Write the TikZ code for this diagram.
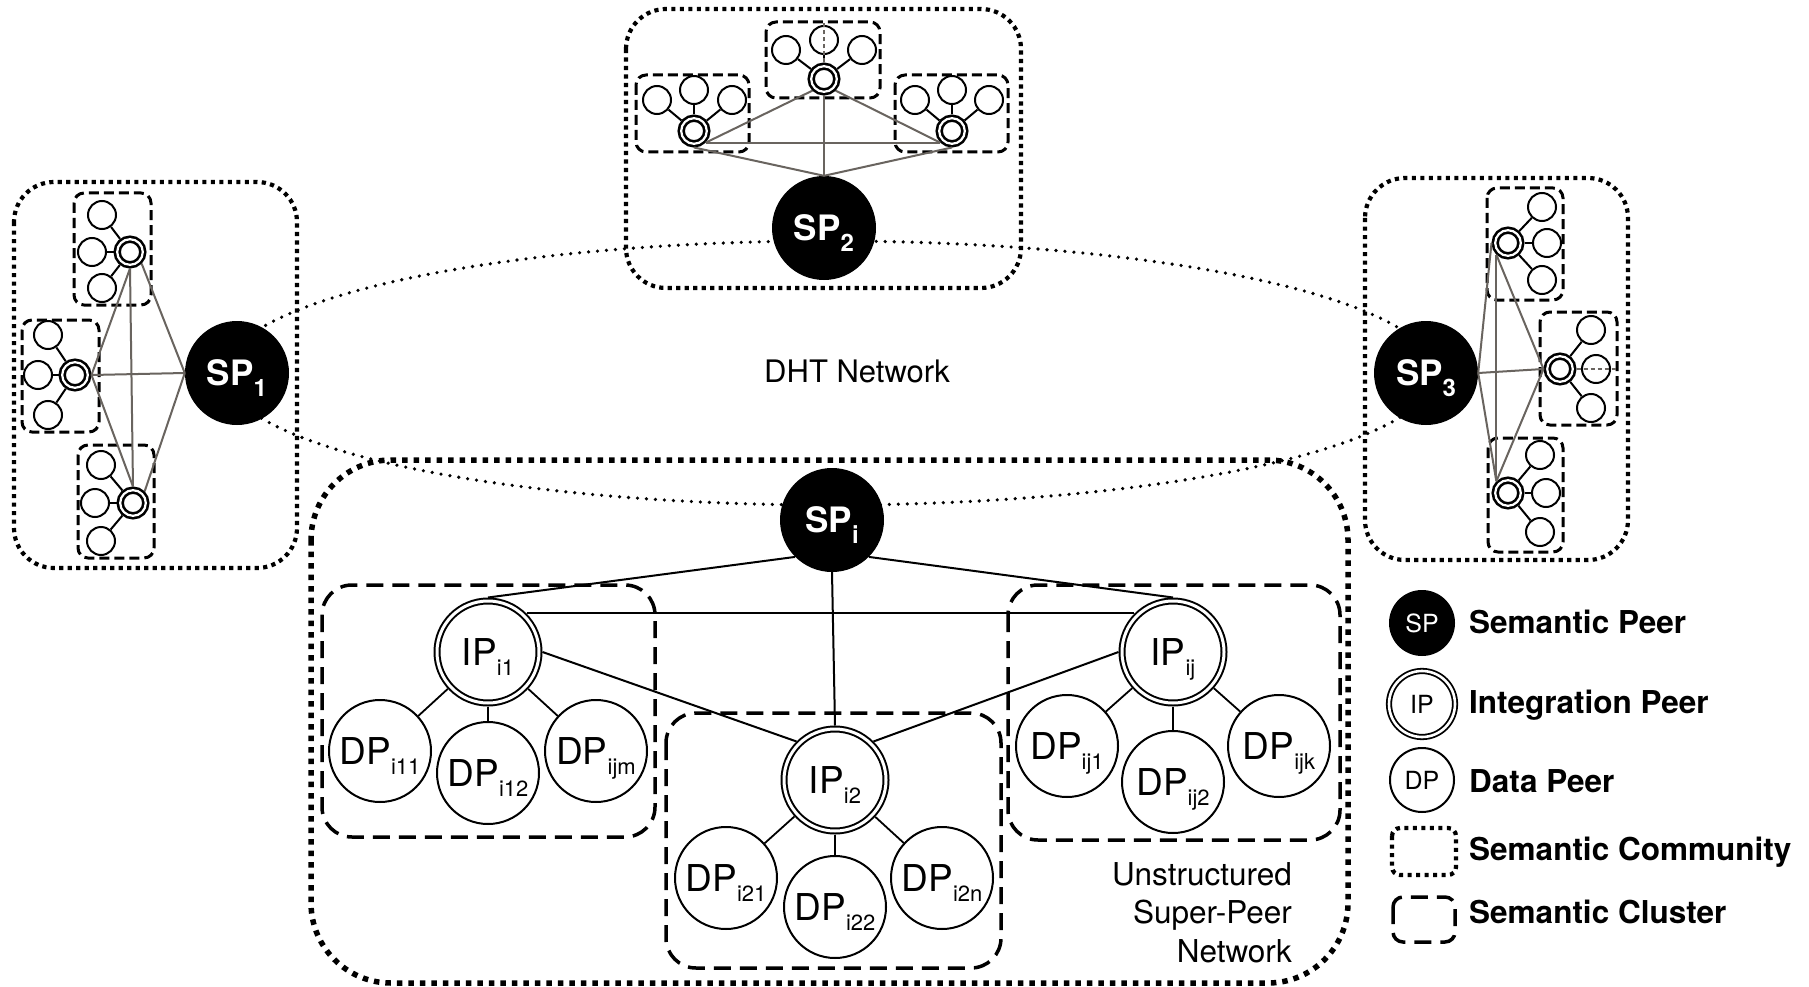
\documentclass[tikz,border=0pt]{standalone}
\usepackage{fontspec}
\setmainfont{TeX Gyre Heros}
\definecolor{glc}{RGB}{105,100,95}
\newcommand{\splab}[1]{SP\raisebox{-11pt}{\fontsize{24}{24}\selectfont #1}}
\newcommand{\peerlab}[2]{#1\raisebox{-10pt}{\fontsize{22}{22}\selectfont #2}}
\tikzset{
 comm/.style={line width=4.2pt, dash pattern=on 4.2pt off 4.3pt, rounded corners=40pt},
 commbig/.style={line width=5.5pt, dash pattern=on 5.5pt off 6pt, rounded corners=80pt},
 clsmall/.style={line width=3pt, dash pattern=on 10pt off 5pt, rounded corners=10pt},
 clbig/.style={line width=3.5pt, dash pattern=on 17pt off 9pt, rounded corners=30pt},
 ring/.style={line width=3.6pt, dash pattern=on 0pt off 9pt, line cap=round},
 sp/.style={circle, fill=black, minimum size=104pt, inner sep=0pt, text=white,
   font=\fontsize{35}{35}\selectfont\bfseries, text height=25pt, text depth=0pt},
 ipb/.style={circle, draw=black, line width=2pt, double=white, double distance=3pt,
   fill=white, minimum size=102pt, inner sep=0pt, outer sep=3.5pt,
   font=\fontsize{37}{37}\selectfont, text height=27pt, text depth=0pt},
 dpb/.style={circle, draw=black, line width=2pt, fill=white, minimum size=102pt,
   inner sep=0pt, font=\fontsize{37}{37}\selectfont, text height=27pt, text depth=0pt},
 ips/.style={circle, draw=black, line width=2.6pt, double=white, double distance=2.2pt,
   fill=white, minimum size=25.6pt, inner sep=0pt, outer sep=3.7pt},
 dps/.style={circle, draw=black, line width=2pt, fill=white, minimum size=28pt, inner sep=0pt},
 gl/.style={draw=glc, line width=2pt},
 gdash/.style={draw=glc, line width=1.2pt, dash pattern=on 4pt off 3pt},
 bl/.style={draw=black, line width=2pt},
 dl/.style={draw=black, line width=1.8pt},
 utxt/.style={anchor=base east, inner sep=0pt, font=\fontsize{31.5}{31.5}\selectfont},
 legt/.style={anchor=base west, inner sep=0pt, font=\fontsize{31.5}{31.5}\selectfont\bfseries},
}
\begin{document}
\begin{tikzpicture}[x=1pt,y=-1pt]
\useasboundingbox (0,0) rectangle (1809,987);
\fill[white] (0,0) rectangle (1809,987);

% DHT ring
\draw[ring] (830,373) ellipse [x radius=605pt, y radius=132pt];

% community boxes
\draw[comm] (14,182) rectangle (297,568);
\draw[comm] (626,9) rectangle (1021,288);
\draw[comm] (1365,178) rectangle (1628,560);
\draw[commbig] (311,460) rectangle (1348,983);

% small cluster boxes
\draw[clsmall] (74,193) rectangle (151,305);
\draw[clsmall] (22,320) rectangle (99,432);
\draw[clsmall] (78,445) rectangle (154,558);
\draw[clsmall] (636,75) rectangle (749,152);
\draw[clsmall] (766,22) rectangle (880,98);
\draw[clsmall] (895,75) rectangle (1008,152);
\draw[clsmall] (1487,188) rectangle (1563,300);
\draw[clsmall] (1540,312) rectangle (1617,425);
\draw[clsmall] (1488,438) rectangle (1563,552);

% big cluster boxes
\draw[clbig] (322,585) rectangle (655,837);
\draw[clbig] (666,713) rectangle (1001,968);
\draw[clbig] (1008,585) rectangle (1340,840);

% semantic peers
\node[sp] (sp1) at (237,373) {\splab{1}};
\node[sp] (sp2) at (824,228) {\splab{2}};
\node[sp] (sp3) at (1426,373) {\splab{3}};
\node[sp] (spi) at (832,520) {\splab{i}};

% ---- SP1 community
\node[ips] (a1) at (130,252) {};
\node[ips] (a2) at (75,375) {};
\node[ips] (a3) at (133,503) {};
\node[dps] (a1x) at (102,215) {};
\node[dps] (a1y) at (92,252) {};
\node[dps] (a1z) at (102,288) {};
\node[dps] (a2x) at (48,335) {};
\node[dps] (a2y) at (38,375) {};
\node[dps] (a2z) at (48,415) {};
\node[dps] (a3x) at (101,465) {};
\node[dps] (a3y) at (95,503) {};
\node[dps] (a3z) at (101,541) {};
\foreach \i in {1,2,3}{\foreach \j in {x,y,z}{\draw[bl] (a\i) -- (a\i\j);}}
\draw[gl] (a1.south east) -- (sp1.west);
\draw[gl] (a2.east) -- (sp1.west);
\draw[gl] (a3.north east) -- (sp1.west);
\draw[gl] (a1.south) -- (a3.north);
\draw[gl] (a1.south) -- (a2.east);
\draw[gl] (a2.east) -- (a3.north);

% ---- SP2 community
\node[ips] (b1) at (694,131) {};
\node[ips] (b2) at (824,79) {};
\node[ips] (b3) at (952,131) {};
\node[dps] (b1x) at (657,100) {};
\node[dps] (b1y) at (694,90) {};
\node[dps] (b1z) at (732,100) {};
\node[dps] (b2x) at (786,50) {};
\node[dps] (b2y) at (824,40) {};
\node[dps] (b2z) at (862,50) {};
\node[dps] (b3x) at (915,100) {};
\node[dps] (b3y) at (952,90) {};
\node[dps] (b3z) at (989,100) {};
\foreach \i in {1,2,3}{\foreach \j in {x,y,z}{\draw[bl] (b\i) -- (b\i\j);}}
\coordinate (b2top) at (824,23);
\draw[gdash] (b2.north) -- (b2top);
\draw[gl] (b1.south) -- (sp2.north);
\draw[gl] (b2.south) -- (sp2.north);
\draw[gl] (b3.south) -- (sp2.north);
\draw[gl] (b1.south east) -- (b3.south west);
\draw[gl] (b1.south east) -- (b2.south west);
\draw[gl] (b2.south east) -- (b3.south west);

% ---- SP3 community
\node[ips] (c1) at (1508,243) {};
\node[ips] (c2) at (1560,369) {};
\node[ips] (c3) at (1508,493) {};
\node[dps] (c1x) at (1542,207) {};
\node[dps] (c1y) at (1547,243) {};
\node[dps] (c1z) at (1542,280) {};
\node[dps] (c2x) at (1591,330) {};
\node[dps] (c2y) at (1596,369) {};
\node[dps] (c2z) at (1591,408) {};
\node[dps] (c3x) at (1540,455) {};
\node[dps] (c3y) at (1546,493) {};
\node[dps] (c3z) at (1540,532) {};
\foreach \i in {1,2,3}{\foreach \j in {x,y,z}{\draw[bl] (c\i) -- (c\i\j);}}
\coordinate (c2end) at (1617,369);
\draw[gdash] (c2.east) -- (c2end);
\draw[gl] (c1.west) -- (sp3.east);
\draw[gl] (c2.west) -- (sp3.east);
\draw[gl] (c3.north west) -- (sp3.east);
\draw[gl] (c1.south west) -- (c3.north west);
\draw[gl] (c1.south west) -- (c2.west);
\draw[gl] (c2.west) -- (c3.north west);

% ---- Unstructured super-peer network
\node[ipb] (p1) at (488,652) {\peerlab{IP}{i1}};
\node[ipb] (p2) at (835,780) {\peerlab{IP}{i2}};
\node[ipb] (pj) at (1173,652) {\peerlab{IP}{ij}};
\node[dpb] (d11) at (380,751) {\peerlab{DP}{i11}};
\node[dpb] (d12) at (488,773) {\peerlab{DP}{i12}};
\node[dpb] (d1m) at (596,751) {\peerlab{DP}{ijm}};
\node[dpb] (d21) at (726,878) {\peerlab{DP}{i21}};
\node[dpb] (d22) at (835,907) {\peerlab{DP}{i22}};
\node[dpb] (d2n) at (942,878) {\peerlab{DP}{i2n}};
\node[dpb] (dj1) at (1067,746) {\peerlab{DP}{ij1}};
\node[dpb] (dj2) at (1173,782) {\peerlab{DP}{ij2}};
\node[dpb] (djk) at (1279,746) {\peerlab{DP}{ijk}};
\draw[dl] (p1) -- (d11); \draw[dl] (p1) -- (d12); \draw[dl] (p1) -- (d1m);
\draw[dl] (p2) -- (d21); \draw[dl] (p2) -- (d22); \draw[dl] (p2) -- (d2n);
\draw[dl] (pj) -- (dj1); \draw[dl] (pj) -- (dj2); \draw[dl] (pj) -- (djk);
\draw[bl] (spi.south west) -- (p1.north);
\draw[bl] (spi.south) -- (p2.north);
\draw[bl] (spi.south east) -- (pj.north);
\draw[bl] (p1.north east) -- (pj.north west);
\draw[bl] (p1.east) -- (p2.north west);
\draw[bl] (pj.west) -- (p2.north east);

% texts
\node[font=\fontsize{31}{31}\selectfont] (dht) at (857,371) {DHT Network};
\node[utxt] (u1) at (1292,885) {Unstructured};
\node[utxt] (u2) at (1292,923) {Super-Peer};
\node[utxt] (u3) at (1292,962) {Network};

% legend
\node[sp, minimum size=66pt, font=\fontsize{25}{25}\selectfont, text height=18pt] (lsp) at (1422,623) {SP};
\node[circle, draw=black, line width=1.8pt, double=white, double distance=2.6pt, fill=white,
  minimum size=66pt, inner sep=0pt, font=\fontsize{25}{25}\selectfont, text height=18pt, text depth=0pt] (lip) at (1422,704) {IP};
\node[circle, draw=black, line width=2pt, fill=white, minimum size=64pt, inner sep=0pt,
  font=\fontsize{25}{25}\selectfont, text height=18pt, text depth=0pt] (ldp) at (1422,780) {DP};
\draw[comm, rounded corners=8pt] (1392,828) rectangle (1456,875);
\draw[clbig, rounded corners=10pt] (1393,897) rectangle (1455,942);
\node[legt] (t1) at (1469,633) {Semantic Peer};
\node[legt] (t2) at (1469,713) {Integration Peer};
\node[legt] (t3) at (1469,792) {Data Peer};
\node[legt] (t4) at (1469,860) {Semantic Community};
\node[legt] (t5) at (1469,923) {Semantic Cluster};
\end{tikzpicture}
\end{document}
